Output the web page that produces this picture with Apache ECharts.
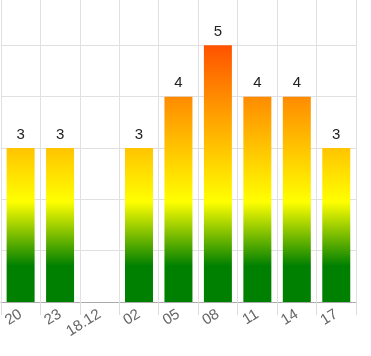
<!DOCTYPE html>
<html><head><meta charset="utf-8">
<script src="https://cdn.jsdelivr.net/npm/echarts@6/dist/echarts.min.js"></script>
<style>html,body{margin:0;padding:0;background:#fff;overflow:hidden}#c{width:371px;height:362px;margin-top:-6px}</style>
</head><body><div id="c"></div>
<script>
var categories = ['20', '23', '18.12', '02', '05', '08', '11', '14', '17'];
var values = [3, 3, null, 3, 4, 5, 4, 4, 3];
var chart = echarts.init(document.getElementById('c'));
var grad = new echarts.graphic.LinearGradient(0, 51, 0, 308, [
  {offset: 0, color: '#ff5200'},
  {offset: 0.61, color: '#ffff00'},
  {offset: 0.86, color: '#008000'},
  {offset: 1, color: '#008000'}
], true);
chart.setOption({
  animation: false,
  grid: {left: 0, right: 15, top: 0, bottom: 54, containLabel: false},
  xAxis: {
    type: 'category', data: categories,
    axisLine: {lineStyle: {color: '#aaa', width: 1}},
    axisTick: {show: true, length: 13, lineStyle: {color: '#ddd'}},
    splitLine: {show: true, lineStyle: {color: '#e0e0e0'}},
    axisLabel: {rotate: 32, color: '#666', fontSize: 15, margin: 11, fontFamily: 'Liberation Sans, Arial, sans-serif'}
  },
  yAxis: {
    type: 'value', min: 0, max: 6, interval: 1,
    axisLabel: {show: false}, axisLine: {show: false}, axisTick: {show: false},
    splitLine: {lineStyle: {color: '#e0e0e0'}}
  },
  series: [{
    type: 'bar', data: values, barWidth: 28,
    itemStyle: {color: grad},
    label: {show: true, position: 'top', distance: 6, color: '#222', fontSize: 15, fontFamily: 'Liberation Sans, Arial, sans-serif'}
  }]
});
</script></body></html>
